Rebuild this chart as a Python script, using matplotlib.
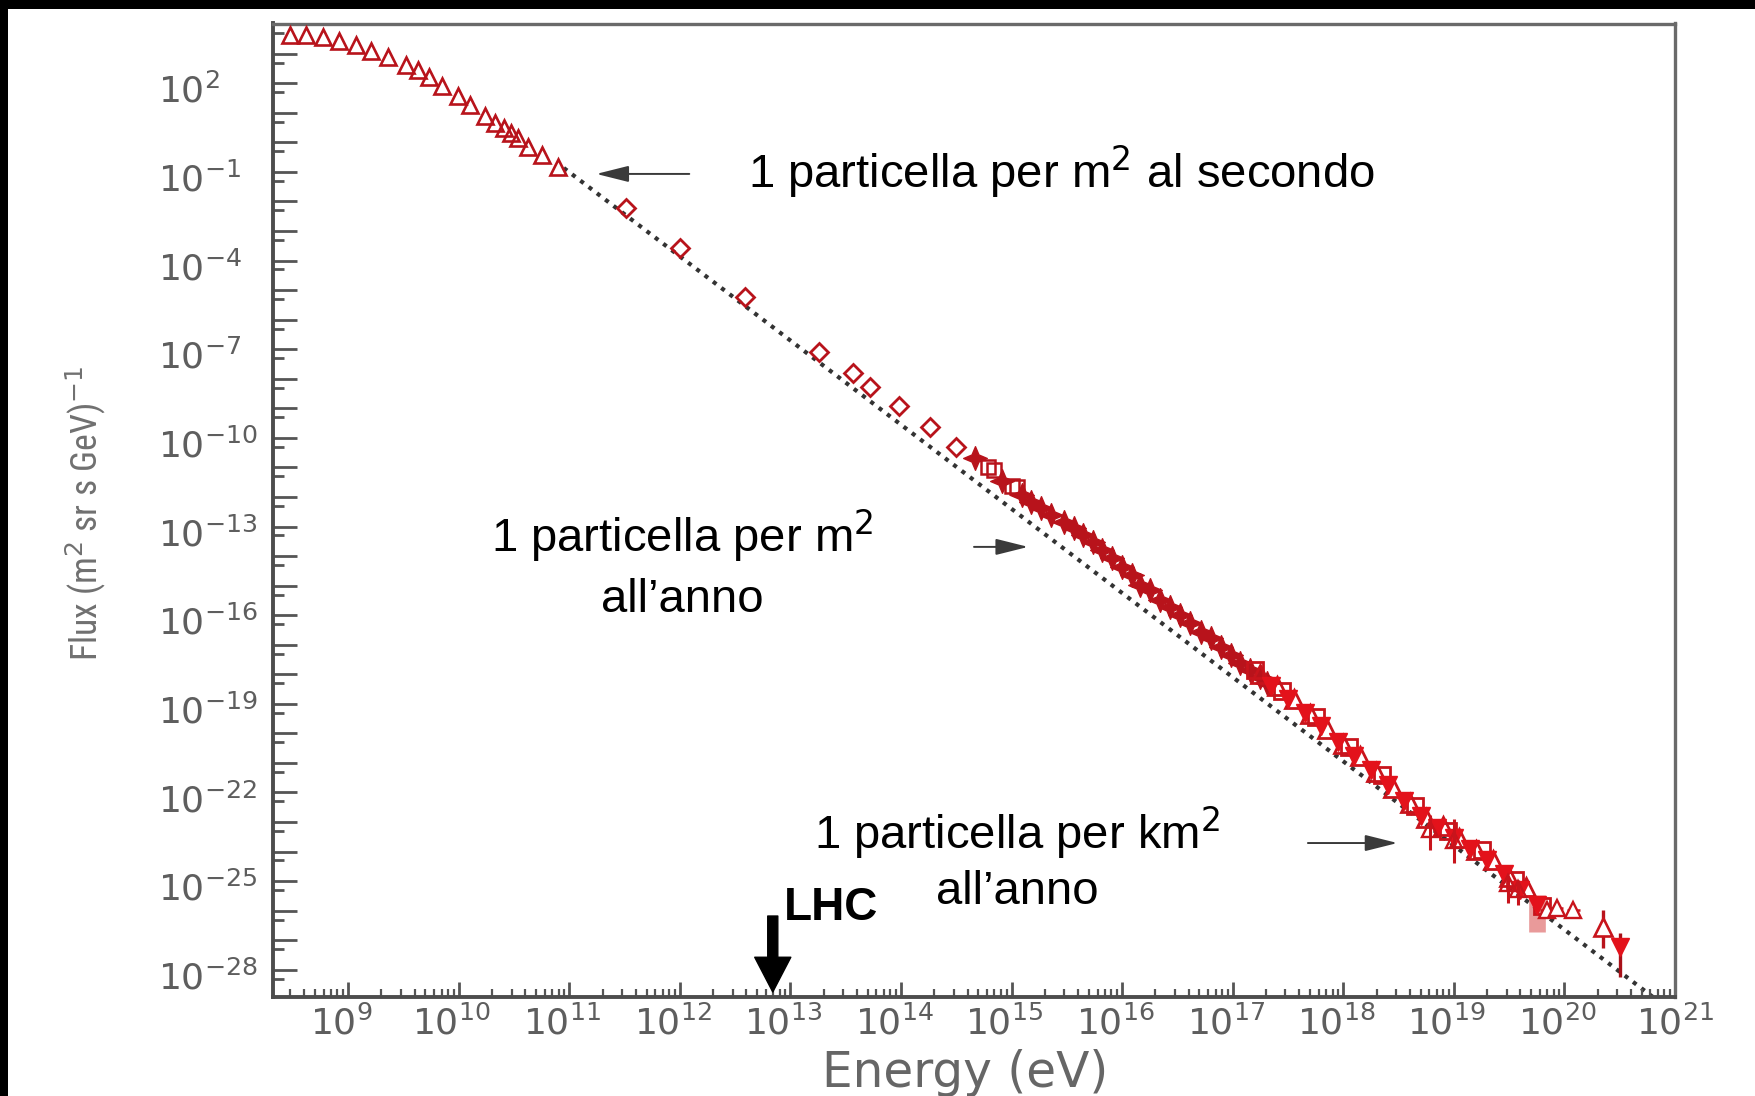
import numpy as np
import matplotlib
matplotlib.use('Agg')
import matplotlib.pyplot as plt
from matplotlib import font_manager
from matplotlib.font_manager import FontProperties
from matplotlib.patches import Rectangle
from matplotlib.path import Path
from matplotlib.transforms import ScaledTranslation
from matplotlib.ticker import FixedLocator, FuncFormatter, NullFormatter

# all values are log10(E / eV) and log10(flux)
tri_logE = [8.47, 8.62, 8.77, 8.92, 9.07, 9.21, 9.36, 9.52, 9.63, 9.73, 9.85,
            9.99, 10.10, 10.24, 10.33, 10.41, 10.47, 10.54, 10.63, 10.75, 10.90]
tri_logF = [3.63, 3.63, 3.58, 3.44, 3.30, 3.10, 2.88, 2.62, 2.43, 2.20, 1.89,
            1.57, 1.27, 0.89, 0.67, 0.48, 0.31, 0.14, -0.15, -0.43, -0.82]

dia_logE = [11.51, 12.00, 12.59, 13.26, 13.57, 13.72, 13.98, 14.26, 14.50]
dia_logF = [-2.23, -3.58, -5.24, -7.08, -7.79, -8.27, -8.92, -9.64, -10.30]

star_logE = [14.67, 14.91, 15.09, 15.18, 15.27, 15.36, 15.47, 15.56, 15.65, 15.74,
             15.82, 15.91, 16.00, 16.09, 16.16, 16.25, 16.34, 16.43, 16.52, 16.61,
             16.71, 16.80, 16.89, 16.98, 17.07, 17.16, 17.25, 17.31]
star_logF = [-10.69, -11.45, -11.93, -12.16, -12.38, -12.61, -12.84, -13.06, -13.29, -13.51,
             -13.79, -14.07, -14.36, -14.64, -14.98, -15.15, -15.49, -15.71, -15.99, -16.27,
             -16.56, -16.78, -17.07, -17.35, -17.63, -17.85, -18.08, -18.30]

knee_sq_logE = [14.79, 14.84, 15.00, 15.05]
knee_sq_logF = [-10.97, -11.09, -11.63, -11.65]

uhe_up_logE = [17.25, 17.40, 17.55, 17.70, 17.85, 18.00, 18.15, 18.30, 18.45,
               18.60, 18.75, 18.90, 19.05, 19.20, 19.35, 19.50, 19.65]
uhe_up_logF = [-18.00, -18.40, -18.85, -19.35, -19.85, -20.35, -20.78, -21.30, -21.85,
               -22.35, -22.85, -23.15, -23.55, -23.95, -24.30, -24.85, -25.20]

uhe_dn_logE = [17.35, 17.50, 17.65, 17.80, 17.95, 18.10, 18.25, 18.40, 18.55,
               18.70, 18.85, 19.00, 19.15, 19.30, 19.45, 19.60, 19.75]
uhe_dn_logF = [-18.40, -18.85, -19.30, -19.75, -20.30, -20.75, -21.25, -21.75, -22.30,
               -22.80, -23.20, -23.55, -23.90, -24.30, -24.75, -25.30, -25.80]

uhe_sq_logE = [17.20, 17.45, 17.75, 18.05, 18.35, 18.65, 18.95, 19.25, 19.55, 19.80]
uhe_sq_logF = [-17.85, -18.55, -19.45, -20.45, -21.40, -22.45, -23.30, -23.95, -24.95, -25.85]

# points with vertical error bars (centre, low, high)
err_logE = [18.78, 19.00, 19.49, 19.58]
err_logF = [-23.25, -23.60, -25.05, -25.25]
err_lo = [-23.95, -24.40, -25.74, -25.80]
err_hi = [-22.75, -22.90, -24.85, -24.95]

# wide light systematic band
sys_logE = [19.75]
sys_logF = [-26.05]
sys_lo = [-26.72]
sys_hi = [-25.47]

# open triangles with cross errors
cross_logE = [19.84, 19.93, 20.08]
cross_logF = [-25.97, -25.90, -25.97]

# highest energy events
top_up_logE, top_up_logF, top_up_lo, top_up_hi = [20.35], [-26.54], [-27.26], [-25.97]
top_dn_logE, top_dn_logF, top_dn_lo, top_dn_hi = [20.50], [-27.22], [-28.24], [-26.75]

# dotted reference power law (end points)
line_logE = [10.95, 20.80]
line_logF = [-0.87, -28.92]

x_decades = list(range(9, 22))
y_decades = list(range(-28, 4))


def p(v):
    return 10.0 ** np.asarray(v, dtype=float)


def yerr(c, lo, hi):
    c = p(c)
    return [c - p(lo), p(hi) - c]


dark_red = '#b8131b'
mid_red = '#c8141c'
bright_red = '#e3121b'
axis_grey = '#555555'
label_grey = '#5e5e5e'

# a narrow face for the y label, if one is installed
ttf = font_manager.fontManager.ttflist
names = {f.name for f in ttf}
ylab_prop = FontProperties(family='DejaVu Sans')
for want in ['Liberation Sans Narrow', 'Roboto Condensed', 'Open Sans Condensed', 'Noto Sans Condensed']:
    hits = [f for f in ttf if f.name == want and f.style == 'normal']
    if hits:
        ylab_prop = FontProperties(fname=hits[0].fname)
        break
else:
    hits = [f for f in ttf if f.name == 'DejaVu Sans' and 'ondensed' in str(f.stretch)
            and f.style == 'normal' and f.weight in (400, 'normal', 'regular')]
    if hits:
        ylab_prop = FontProperties(fname=hits[0].fname)
ann_font = 'Liberation Sans' if 'Liberation Sans' in names else 'DejaVu Sans'

star4 = Path.unit_regular_star(4, 0.42)

fig = plt.figure(figsize=(17.56, 10.96), dpi=100)
fig.patch.set_facecolor('black')
fig.add_artist(Rectangle((8 / 1756, 0), 1, (1096 - 9) / 1096, transform=fig.transFigure,
                         facecolor='white', edgecolor='none', zorder=0))

ax = fig.add_axes([273 / 1756, 1 - 997 / 1096, 1402 / 1756, 973.5 / 1096])
ax.set_xscale('log')
ax.set_yscale('log')

ax.plot(p(line_logE), p(line_logF), color='#333333', lw=3.0, linestyle=(0, (1.0, 1.5)), zorder=1)

ax.plot(p(tri_logE), p(tri_logF), '^', ms=12, mfc='none', mec=dark_red, mew=1.9, zorder=3)
ax.plot(p(dia_logE), p(dia_logF), 'D', ms=9, mfc='none', mec=dark_red, mew=2.0, zorder=3)
ax.plot(p(star_logE), p(star_logF), marker=star4, ls='none', ms=17, color=dark_red, zorder=3)
ax.plot(p(knee_sq_logE), p(knee_sq_logF), 's', ms=10, mfc='none', mec=dark_red, mew=1.8, zorder=3)

ax.plot(p(uhe_sq_logE), p(uhe_sq_logF), 's', ms=11, mfc='none', mec=mid_red, mew=2.0, zorder=3)
ax.plot(p(uhe_up_logE), p(uhe_up_logF), '^', ms=13, mfc='none', mec=mid_red, mew=2.0, zorder=3)
ax.plot(p(uhe_dn_logE), p(uhe_dn_logF), 'v', ms=13, color=bright_red, zorder=4)

ax.errorbar(p(sys_logE), p(sys_logF), yerr=yerr(sys_logF, sys_lo, sys_hi), fmt='none',
            ecolor='#e07070', elinewidth=12, alpha=0.7, zorder=2)
ax.errorbar(p(err_logE), p(err_logF), yerr=yerr(err_logF, err_lo, err_hi), fmt='^', ms=12,
            mfc='none', mec=mid_red, mew=1.7, ecolor=mid_red, elinewidth=2.2, zorder=4)
ax.errorbar(p(cross_logE), p(cross_logF),
            xerr=[p(cross_logE) * (1 - 10 ** -0.06), p(cross_logE) * (10 ** 0.06 - 1)],
            yerr=[p(cross_logF) * (1 - 10 ** -0.15), p(cross_logF) * (10 ** 0.15 - 1)],
            fmt='^', ms=11, mfc='white', mec=mid_red, mew=1.7, ecolor=mid_red, elinewidth=1.8, zorder=4)
ax.errorbar(p(top_up_logE), p(top_up_logF), yerr=yerr(top_up_logF, top_up_lo, top_up_hi), fmt='^',
            ms=13, mfc='white', mec=mid_red, mew=1.9, ecolor=dark_red, elinewidth=2.4, zorder=4)
ax.errorbar(p(top_dn_logE), p(top_dn_logF), yerr=yerr(top_dn_logF, top_dn_lo, top_dn_hi), fmt='v',
            ms=13, color=bright_red, ecolor='#a81018', elinewidth=2.4, zorder=4)

ax.set_xlim(10 ** 8.32, 1e21)
ax.set_ylim(10 ** -28.92, 10 ** 4.02)

ax.xaxis.set_major_locator(FixedLocator(p(x_decades)))
ax.xaxis.set_major_formatter(FuncFormatter(lambda v, pos: '$10^{%d}$' % round(np.log10(v))))
ax.xaxis.set_minor_locator(FixedLocator([m * 10.0 ** n for n in range(8, 21) for m in range(2, 10)]))
ax.xaxis.set_minor_formatter(NullFormatter())


def ylab(v, pos):
    n = int(round(np.log10(v)))
    return '$10^{%d}$' % n if (n - 2) % 3 == 0 else ''


ax.yaxis.set_major_locator(FixedLocator(p(y_decades)))
ax.yaxis.set_major_formatter(FuncFormatter(ylab))
ax.yaxis.set_minor_locator(FixedLocator(0.5 * p(list(range(-28, 5)))))
ax.yaxis.set_minor_formatter(NullFormatter())

ax.tick_params(axis='x', which='major', direction='in', length=11, width=2, color=axis_grey,
               labelsize=26, labelcolor=label_grey, pad=6)
ax.tick_params(axis='x', which='minor', direction='in', length=5.5, width=1.6, color=axis_grey)
ax.tick_params(axis='y', which='major', direction='in', length=17, width=2, color=axis_grey,
               labelsize=26, labelcolor=label_grey, pad=83)
ax.tick_params(axis='y', which='minor', direction='in', length=8, width=2, color=axis_grey)
ax.tick_params(top=False, right=False)
yshift = ScaledTranslation(0, -0.05, fig.dpi_scale_trans)
for lab in ax.get_yticklabels():
    lab.set_horizontalalignment('left')
    lab.set_transform(lab.get_transform() + yshift)
xshift = ScaledTranslation(-0.07, 0, fig.dpi_scale_trans)
for lab in ax.get_xticklabels()[:-1]:
    lab.set_transform(lab.get_transform() + xshift)

for side in ['left', 'bottom']:
    ax.spines[side].set_linewidth(2.8)
    ax.spines[side].set_color('#4d4d4d')
for side in ['top', 'right']:
    ax.spines[side].set_linewidth(2.4)
    ax.spines[side].set_color('#6a6a6a')

ax.set_xlabel('Energy (eV)', fontsize=35, color='#666666')
ax.xaxis.set_label_coords(0.494, -0.053)
ylabel = ax.set_ylabel('Flux (m$^2$ sr s GeV)$^{-1}$', fontproperties=ylab_prop, color='#707070')
ylabel.set_fontsize(30)
ax.yaxis.set_label_coords(-0.118, 0.497)

# annotations
ax.text(10 ** 12.62, 10 ** -1.54, '1 particella per m$^2$ al secondo', fontsize=34,
        family=ann_font, ha='left', va='baseline')
ax.text(10 ** 12.02, 10 ** -13.86, '1 particella per m$^2$', fontsize=34,
        family=ann_font, ha='center', va='baseline')
ax.text(10 ** 12.02, 10 ** -15.89, 'all\u2019anno', fontsize=34,
        family=ann_font, ha='center', va='baseline')
ax.text(10 ** 15.05, 10 ** -23.91, '1 particella per km$^2$', fontsize=34,
        family=ann_font, ha='center', va='baseline')
ax.text(10 ** 15.05, 10 ** -25.77, 'all\u2019anno', fontsize=34,
        family=ann_font, ha='center', va='baseline')
ax.text(10 ** 12.94, 10 ** -26.31, 'LHC', fontsize=33, fontweight='bold',
        family=ann_font, ha='left', va='baseline')

thin = dict(arrowstyle='-|>,head_length=1.0,head_width=0.25', mutation_scale=20,
            color='#3a3a3a', lw=1.4, shrinkA=0, shrinkB=0)
ax.annotate('', xy=(10 ** 11.244, 10 ** -1.07), xytext=(10 ** 12.085, 10 ** -1.07), arrowprops=thin)
ax.annotate('', xy=(10 ** 15.15, 10 ** -13.69), xytext=(10 ** 14.66, 10 ** -13.69), arrowprops=thin)
ax.annotate('', xy=(10 ** 18.49, 10 ** -23.71), xytext=(10 ** 17.68, 10 ** -23.71), arrowprops=thin)

ax.annotate('', xy=(10 ** 12.84, 10 ** -28.75), xytext=(10 ** 12.84, 10 ** -26.18),
            arrowprops=dict(arrowstyle='simple,head_length=1.0,head_width=1.04,tail_width=0.29',
                            mutation_scale=25, fc='black', ec='black', shrinkA=0, shrinkB=0))

# size the y label so that it spans about the same height as in the picture
fig.canvas.draw()
h = ylabel.get_window_extent().height
ylabel.set_fontsize(min(40, 30 * 295 / h))

fig.savefig('out.png', dpi=100, facecolor=fig.get_facecolor())
plt.close(fig)
